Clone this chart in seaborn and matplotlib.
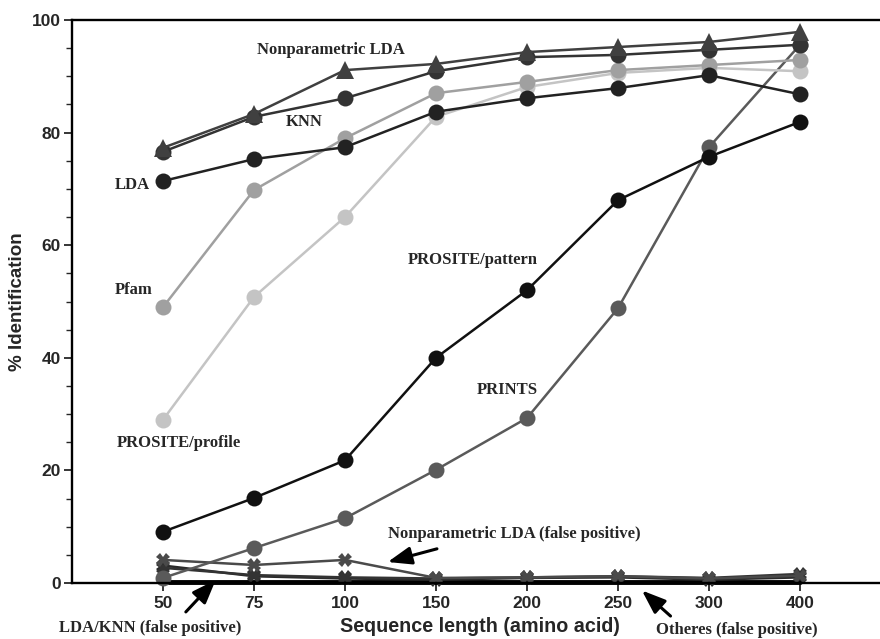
import numpy as np
import pandas as pd
import matplotlib
matplotlib.use("Agg")
import matplotlib.pyplot as plt
import seaborn as sns

sns.set_theme(style="white")
plt.rcParams['font.family'] = ['Liberation Sans', 'DejaVu Sans']

# sequence lengths (categorical, equally spaced on the chart)
lengths = ["50", "75", "100", "150", "200", "250", "300", "400"]

# % identification per method
nplda = [77.3, 83.3, 91.1, 92.2, 94.3, 95.2, 96.1, 97.9]
knn = [76.6, 82.8, 86.1, 90.9, 93.4, 93.8, 94.7, 95.6]
lda = [71.4, 75.3, 77.4, 83.7, 86.1, 87.9, 90.2, 86.8]
pfam = [49.0, 69.8, 79.0, 87.0, 89.0, 91.1, 92.0, 92.9]
prosite_profile = [29.0, 50.8, 65.0, 82.8, 88.1, 90.6, 91.5, 90.9]
prosite_pattern = [9.1, 15.1, 21.8, 40.0, 52.0, 68.0, 75.7, 81.9]
prints = [0.9, 6.2, 11.5, 20.1, 29.3, 48.8, 77.4, 95.6]

# false positive rates
nplda_fp = [4.1, 3.2, 4.1, 0.9, 1.0, 1.2, 0.8, 1.3]
lda_fp = [2.7, 1.4, 1.0, 0.8, 1.0, 1.2, 0.9, 1.6]
knn_fp = [3.1, 1.2, 0.8, 0.6, 0.9, 1.0, 0.6, 1.0]
others_fp = [0.2, 0.2, 0.2, 0.2, 0.2, 0.2, 0.2, 0.2]

fig = plt.figure(figsize=(8.8, 6.39), dpi=100)
ax = fig.add_axes([72 / 880, 56 / 639, 819 / 880, 563 / 639])

series = [
    # values, color, marker, markersize, linewidth
    (others_fp, "#000000", None, 0, 3.5),
    (knn_fp, "#2a2a2a", "X", 10, 1.8),
    (lda_fp, "#333333", "X", 10, 1.8),
    (nplda_fp, "#4a4a4a", "X", 10, 1.8),
    (prints, "#5a5a5a", "o", 11.5, 1.8),
    (prosite_pattern, "#111111", "o", 11.5, 1.8),
    (prosite_profile, "#c4c4c4", "o", 11.5, 1.8),
    (pfam, "#a0a0a0", "o", 11.5, 1.8),
    (lda, "#222222", "o", 11.5, 1.8),
    (knn, "#333333", "o", 11.5, 1.8),
    (nplda, "#404040", "^", 12.5, 1.8),
]

for vals, color, marker, ms, lw in series:
    df = pd.DataFrame({"length": lengths, "value": vals})
    sns.lineplot(data=df, x="length", y="value", color=color, marker=marker,
                 markersize=ms, linewidth=lw, markeredgewidth=0, ax=ax,
                 sort=False, clip_on=False)

ax.set_xlim(-1, 8)
ax.set_ylim(0, 100)
ax.set_yticks([0, 20, 40, 60, 80, 100])
ax.set_yticks(np.arange(0, 101, 5), minor=True)

for side in ["left", "top", "bottom"]:
    ax.spines[side].set_visible(True)
    ax.spines[side].set_color("black")
    ax.spines[side].set_linewidth(1.7)
ax.spines["right"].set_visible(False)

ax.tick_params(axis="y", which="major", direction="out", length=6, width=1.3,
               left=True, labelsize=12.5, pad=2)
ax.tick_params(axis="y", which="minor", direction="out", length=4, width=1.0, left=True)
ax.tick_params(axis="x", which="major", direction="out", length=6, width=1.3,
               bottom=True, labelsize=12.5, pad=3)
for lab in ax.get_xticklabels() + ax.get_yticklabels():
    lab.set_fontweight("bold")

ax.set_xlabel("Sequence length (amino acid)", fontsize=14.2, fontweight="bold")
ax.xaxis.set_label_coords(0.498, -0.061)
ax.set_ylabel("% Identification", fontsize=13.5, fontweight="bold")
ax.yaxis.set_label_coords(-0.056, 0.5)

serif = dict(family=["Liberation Serif", "DejaVu Serif"], fontweight="bold",
             fontsize=12, ha="center", va="center", clip_on=False)
ax.text(1.84, 94.7, "Nonparametric LDA", **serif)
ax.text(1.55, 81.9, "KNN", **serif)
ax.text(-0.335, 70.7, "LDA", **serif)
ax.text(-0.32, 52.0, "Pfam", **serif)
ax.text(0.17, 24.9, "PROSITE/profile", **serif)
ax.text(3.40, 57.4, "PROSITE/pattern", **serif)
ax.text(3.78, 34.3, "PRINTS", **serif)
ax.text(3.86, 8.7, "Nonparametric LDA (false positive)", **serif)
ax.text(-0.14, -8.0, "LDA/KNN (false positive)", **serif)
ax.text(6.31, -8.3, "Otheres (false positive)", **serif)

arrow = dict(arrowstyle="-|>,head_length=1.2,head_width=0.45", color="black", lw=2.2)
ax.annotate("", xy=(2.44, 3.6), xytext=(3.04, 6.2), arrowprops=arrow)
ax.annotate("", xy=(0.60, 0.9), xytext=(0.23, -5.5), arrowprops=arrow,
            annotation_clip=False)
ax.annotate("", xy=(5.24, -1.0), xytext=(5.6, -6.2), arrowprops=arrow,
            annotation_clip=False)

fig.savefig("out.png", dpi=100)
